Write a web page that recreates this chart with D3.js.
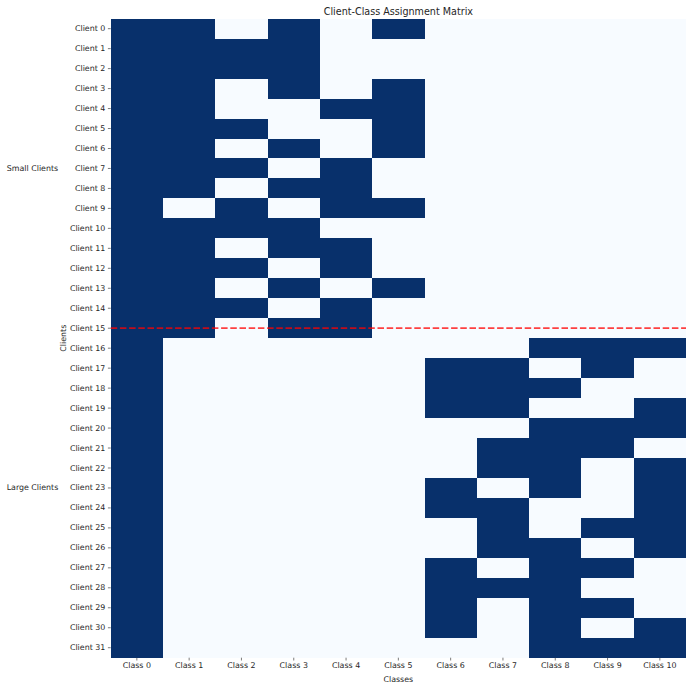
<!DOCTYPE html>
<html>
<head>
<meta charset="utf-8">
<script src="https://cdn.jsdelivr.net/npm/d3@7"></script>
<style>
  body { margin: 0; background: #ffffff; }
  svg { display: block; }
  text { font-family: "DejaVu Sans", sans-serif; fill: #262626; }
</style>
</head>
<body>
<svg id="chart" width="692" height="688"></svg>
<script>
// ---------------- data ----------------
const classes = ["Class 0","Class 1","Class 2","Class 3","Class 4","Class 5","Class 6","Class 7","Class 8","Class 9","Class 10"];
const clients = d3.range(32).map(i => "Client " + i);
const groupLabels = ["Small Clients", "Large Clients"];
const groupCenters = [7.5, 23.5];
const separatorRow = 15.5;

// assignment rows (1 = assigned)
const smallClients = [
  [1,1,0,1,0,1,0,0,0,0,0],
  [1,1,1,1,0,0,0,0,0,0,0],
  [1,1,1,1,0,0,0,0,0,0,0],
  [1,1,0,1,0,1,0,0,0,0,0],
  [1,1,0,0,1,1,0,0,0,0,0],
  [1,1,1,0,0,1,0,0,0,0,0],
  [1,1,0,1,0,1,0,0,0,0,0],
  [1,1,1,0,1,0,0,0,0,0,0],
  [1,1,0,1,1,0,0,0,0,0,0],
  [1,0,1,0,1,1,0,0,0,0,0],
  [1,1,1,1,0,0,0,0,0,0,0],
  [1,1,0,1,1,0,0,0,0,0,0],
  [1,1,1,0,1,0,0,0,0,0,0],
  [1,1,0,1,0,1,0,0,0,0,0],
  [1,1,1,0,1,0,0,0,0,0,0],
  [1,1,0,1,1,0,0,0,0,0,0]
];
const largeClients = [
  [1,0,0,0,0,0,0,0,1,1,1],
  [1,0,0,0,0,0,1,1,0,1,0],
  [1,0,0,0,0,0,1,1,1,0,0],
  [1,0,0,0,0,0,1,1,0,0,1],
  [1,0,0,0,0,0,0,0,1,1,1],
  [1,0,0,0,0,0,0,1,1,1,0],
  [1,0,0,0,0,0,0,1,1,0,1],
  [1,0,0,0,0,0,1,0,1,0,1],
  [1,0,0,0,0,0,1,1,0,0,1],
  [1,0,0,0,0,0,0,1,0,1,1],
  [1,0,0,0,0,0,0,1,1,0,1],
  [1,0,0,0,0,0,1,0,1,1,0],
  [1,0,0,0,0,0,1,1,1,0,0],
  [1,0,0,0,0,0,1,0,1,1,0],
  [1,0,0,0,0,0,1,0,1,0,1],
  [1,0,0,0,0,0,0,0,1,1,1]
];

// ---------------- layout ----------------
const matrix = smallClients.concat(largeClients);
const cells = [];
matrix.forEach((row, r) => row.forEach((v, c) => cells.push({client: clients[r], cls: classes[c], v})));

const plotLeft = 110.7, plotRight = 686, plotTop = 18.7, plotBottom = 657.7;
const svg = d3.select("#chart");

const x = d3.scaleBand().domain(classes).range([plotLeft, plotRight]).padding(0);
const y = d3.scaleBand().domain(clients).range([plotTop, plotBottom]).padding(0);
const yLin = d3.scaleLinear().domain([0, clients.length]).range([plotTop, plotBottom]);
const color = d3.scaleLinear().domain([0, 1]).range(["#f7fbff", "#08306b"]);

svg.append("g")
  .selectAll("rect")
  .data(cells)
  .join("rect")
  .attr("x", d => x(d.cls))
  .attr("y", d => y(d.client))
  .attr("width", x.bandwidth() + 0.4)
  .attr("height", y.bandwidth() + 0.4)
  .attr("fill", d => color(d.v))
  .attr("shape-rendering", "crispEdges");

// separator line
svg.append("line")
  .attr("x1", plotLeft).attr("x2", plotRight)
  .attr("y1", yLin(separatorRow)).attr("y2", yLin(separatorRow))
  .attr("stroke", "red")
  .attr("stroke-opacity", 0.75)
  .attr("stroke-width", 1.8)
  .attr("stroke-dasharray", "6.5,2.7");

// axes
const yAxis = svg.append("g")
  .attr("transform", `translate(${plotLeft},0)`)
  .call(d3.axisLeft(y).tickSize(2.8).tickPadding(2.6));
yAxis.select(".domain").remove();
yAxis.selectAll(".tick line").attr("stroke", "#444").attr("stroke-width", 0.7);
yAxis.selectAll(".tick text")
  .attr("font-size", "7.9px")
  .attr("font-family", "DejaVu Sans")
  .attr("fill", "#262626");

const xAxis = svg.append("g")
  .attr("transform", `translate(0,${plotBottom})`)
  .call(d3.axisBottom(x).tickSize(2.8).tickPadding(2.4));
xAxis.select(".domain").remove();
xAxis.selectAll(".tick line").attr("stroke", "#444").attr("stroke-width", 0.7);
xAxis.selectAll(".tick text")
  .attr("font-size", "7.9px")
  .attr("font-family", "DejaVu Sans")
  .attr("fill", "#262626");

// group labels
svg.append("g")
  .selectAll("text")
  .data(groupLabels)
  .join("text")
  .attr("x", 32.5)
  .attr("y", (d, i) => yLin(groupCenters[i]))
  .attr("dy", "0.32em")
  .attr("text-anchor", "middle")
  .attr("font-size", "7.9px")
  .text(d => d);

// title & axis labels
svg.append("text")
  .attr("x", (plotLeft + plotRight) / 2)
  .attr("y", 15)
  .attr("text-anchor", "middle")
  .attr("font-size", "9.6px")
  .text("Client-Class Assignment Matrix");

svg.append("text")
  .attr("x", (plotLeft + plotRight) / 2)
  .attr("y", 682)
  .attr("text-anchor", "middle")
  .attr("font-size", "7.9px")
  .text("Classes");

svg.append("text")
  .attr("transform", `translate(65.5,${(plotTop + plotBottom) / 2}) rotate(-90)`)
  .attr("text-anchor", "middle")
  .attr("font-size", "7.9px")
  .text("Clients");
</script>
</body>
</html>
